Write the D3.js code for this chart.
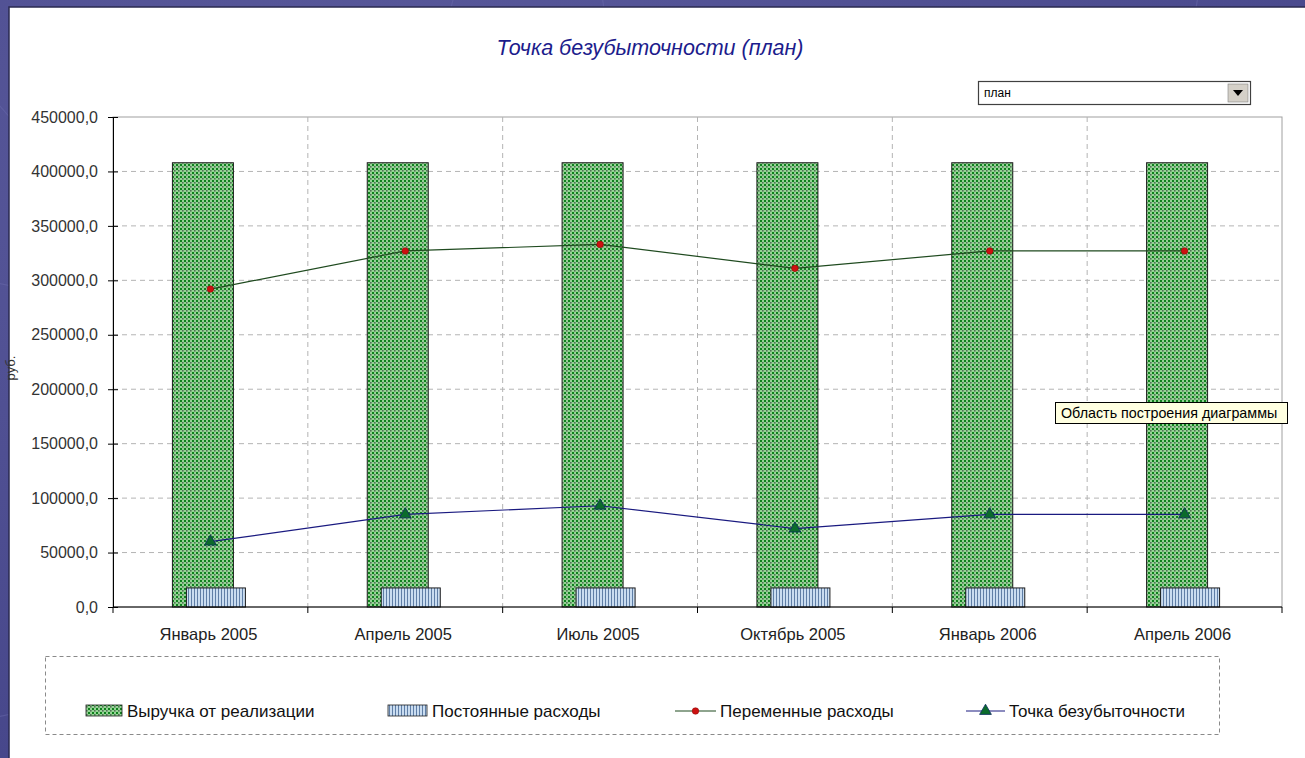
<!DOCTYPE html>
<html>
<head>
<meta charset="utf-8">
<script src="https://cdnjs.cloudflare.com/ajax/libs/d3/7.8.5/d3.min.js"></script>
<style>
  html, body { margin: 0; padding: 0; background: #4c4c8c; }
  svg { display: block; }
</style>
</head>
<body>
<svg id="chart" width="1305" height="758"></svg>
<script>
// Break-even chart (plan)
const categories = ["Январь 2005", "Апрель 2005", "Июль 2005", "Октябрь 2005", "Январь 2006", "Апрель 2006"];
const revenue = [408000, 408000, 408000, 408000, 408000, 408000];
const fixedCosts = [17500, 17500, 17500, 17500, 17500, 17500];
const variableCosts = [292000, 327000, 333000, 311000, 327000, 327000];
const breakEven = [60000, 85000, 93000, 72000, 85000, 85000];
const yTicks = [0, 50000, 100000, 150000, 200000, 250000, 300000, 350000, 400000, 450000];
const legendLabels = ["Выручка от реализации", "Постоянные расходы", "Переменные расходы", "Точка безубыточности"];

(function () {
const svg = d3.select("#chart");
const W = 1305, H = 758;
const font = "'Liberation Sans', Arial, sans-serif";

// Text helper
function label(parent, x, y, txt, size, opts = {}) {
  return parent.append("text")
    .attr("x", x).attr("y", y)
    .attr("text-anchor", opts.anchor || "start")
    .attr("font-family", font).attr("font-size", size)
    .attr("font-style", opts.italic ? "italic" : null)
    .attr("fill", opts.fill || "#222").text(txt);
}

// Background with soft swirls
const defs = svg.append("defs");
const rg = defs.append("radialGradient").attr("id", "bgGrad").attr("cx", "30%").attr("cy", "20%").attr("r", "90%");
rg.append("stop").attr("offset", "0%").attr("stop-color", "#5a5a9c");
rg.append("stop").attr("offset", "100%").attr("stop-color", "#46468a");
svg.append("rect").attr("width", W).attr("height", H).attr("fill", "url(#bgGrad)");
[[200, -60, 260], [900, -40, 300], [-40, 500, 220]].forEach(([cx, cy, r]) => {
  svg.append("circle").attr("cx", cx).attr("cy", cy).attr("r", r)
    .attr("fill", "none").attr("stroke", "#6a6aac").attr("stroke-width", 1.2).attr("opacity", 0.5);
});

// Patterns for bars
const pg = defs.append("pattern").attr("id", "greenDots").attr("patternUnits", "userSpaceOnUse")
  .attr("width", 4).attr("height", 4);
pg.append("rect").attr("width", 4).attr("height", 4).attr("fill", "#93d493");
pg.append("rect").attr("x", 0).attr("y", 0).attr("width", 2).attr("height", 2).attr("fill", "#10801e");
pg.append("rect").attr("x", 2).attr("y", 2).attr("width", 1.6).attr("height", 1.6).attr("fill", "#55705a");

const pb = defs.append("pattern").attr("id", "blueStripes").attr("patternUnits", "userSpaceOnUse")
  .attr("width", 3).attr("height", 3);
pb.append("rect").attr("width", 3).attr("height", 3).attr("fill", "#c9dcf0");
pb.append("rect").attr("x", 2).attr("width", 1).attr("height", 3).attr("fill", "#5f7ea6");

// White chart panel
svg.append("rect").attr("x", 9).attr("y", 7).attr("width", W).attr("height", H)
  .attr("fill", "#ffffff").attr("stroke", "#2a2a50").attr("stroke-width", 1.5);

// Title
label(svg, 650, 55, "Точка безубыточности (план)", 21.5, { anchor: "middle", italic: true, fill: "#1c1c8c" });

// Plot area
const pLeft = 113, pRight = 1282, pTop = 117, pBottom = 607;
const x = d3.scaleBand().domain(categories).range([pLeft, pRight]);
const y = d3.scaleLinear().domain([0, 450000]).range([pBottom, pTop]);

svg.append("rect").attr("x", pLeft).attr("y", pTop).attr("width", pRight - pLeft).attr("height", pBottom - pTop)
  .attr("fill", "#ffffff").attr("stroke", "#a0a0a0").attr("stroke-width", 1);

// Horizontal grid
svg.append("g").selectAll("line").data(yTicks.filter(v => v > 0 && v < 450000)).join("line")
  .attr("x1", pLeft).attr("x2", pRight).attr("y1", d => y(d)).attr("y2", d => y(d))
  .attr("stroke", "#b4b4b4").attr("stroke-dasharray", "5,4");

// Vertical grid at category boundaries
svg.append("g").selectAll("line").data(categories.slice(1)).join("line")
  .attr("x1", d => x(d)).attr("x2", d => x(d)).attr("y1", pTop).attr("y2", pBottom)
  .attr("stroke", "#b4b4b4").attr("stroke-dasharray", "5,4");

const cx = (i) => x(categories[i]) + x.bandwidth() / 2;

// Revenue bars
const gw = 61, bw = 59;
svg.append("g").selectAll("rect").data(revenue).join("rect")
  .attr("x", (d, i) => cx(i) - 38)
  .attr("y", d => y(d)).attr("width", gw).attr("height", d => pBottom - y(d))
  .attr("fill", "url(#greenDots)").attr("stroke", "#1e1e1e").attr("stroke-width", 1);

// Fixed cost bars
svg.append("g").selectAll("rect").data(fixedCosts).join("rect")
  .attr("x", (d, i) => cx(i) - 24)
  .attr("y", d => y(d)).attr("width", bw).attr("height", d => pBottom - y(d))
  .attr("fill", "url(#blueStripes)").attr("stroke", "#1e1e1e").attr("stroke-width", 1);

// Variable costs line
svg.append("path").datum(variableCosts)
  .attr("d", d3.line().x((d, i) => cx(i)).y(d => y(d)))
  .attr("fill", "none").attr("stroke", "#1f4a1f").attr("stroke-width", 1.2);
svg.append("g").selectAll("circle").data(variableCosts).join("circle")
  .attr("cx", (d, i) => cx(i)).attr("cy", d => y(d)).attr("r", 3.3)
  .attr("fill", "#cc1111").attr("stroke", "#8a0000").attr("stroke-width", 0.5);

// Break-even line
svg.append("path").datum(breakEven)
  .attr("d", d3.line().x((d, i) => cx(i)).y(d => y(d)))
  .attr("fill", "none").attr("stroke", "#1a1a80").attr("stroke-width", 1.2);
svg.append("g").selectAll("path").data(breakEven).join("path")
  .attr("transform", (d, i) => `translate(${cx(i)},${y(d)})`)
  .attr("d", d3.symbol(d3.symbolTriangle, 60)())
  .attr("fill", "#0b6b2b").attr("stroke", "#0a2a60").attr("stroke-width", 0.8);

// Y axis
const yAxis = d3.axisLeft(y).tickValues(yTicks).tickSize(5).tickPadding(10)
  .tickFormat(d => d3.format(".1f")(d).replace(".", ","));
const gy = svg.append("g").attr("transform", `translate(${pLeft},0)`).call(yAxis);
gy.select(".domain").attr("stroke", "#000");
gy.selectAll(".tick line").attr("x1", -5).attr("x2", 5).attr("stroke", "#000");
gy.selectAll("text").attr("font-family", font).attr("font-size", 16).attr("fill", "#333");

// X axis
svg.append("line").attr("x1", pLeft).attr("x2", pRight).attr("y1", pBottom).attr("y2", pBottom).attr("stroke", "#000");
const boundaries = categories.map(c => x(c)).concat([pRight]);
svg.append("g").selectAll("line").data(boundaries).join("line")
  .attr("x1", d => d).attr("x2", d => d).attr("y1", pBottom).attr("y2", pBottom + 6).attr("stroke", "#000");
const gx = svg.append("g");
categories.forEach((c, i) => label(gx, cx(i) - 2, 640, c, 16.5, { anchor: "middle" }));

// Y axis title (rotated)
svg.append("text").attr("transform", "translate(15,368) rotate(-90)")
  .attr("text-anchor", "middle").attr("font-family", font).attr("font-size", 13).attr("fill", "#333").text("руб.");

// Dropdown control
svg.append("rect").attr("x", 978.5).attr("y", 81.5).attr("width", 272).attr("height", 23)
  .attr("fill", "#fff").attr("stroke", "#404040").attr("stroke-width", 1.2);
svg.append("rect").attr("x", 1228).attr("y", 84).attr("width", 20).attr("height", 18)
  .attr("fill", "#d4d0c8").attr("stroke", "#808080").attr("stroke-width", 0.6);
svg.append("path").attr("d", "M1233,90 L1243,90 L1238,96 Z").attr("fill", "#000");
label(svg, 984, 97, "план", 12, { fill: "#000" });

// Legend
svg.append("rect").attr("x", 45.5).attr("y", 656.5).attr("width", 1174).attr("height", 78)
  .attr("fill", "none").attr("stroke", "#8a8a8a").attr("stroke-dasharray", "4,3");
const ly = 711;
svg.append("rect").attr("x", 86).attr("y", ly - 6).attr("width", 36).attr("height", 11)
  .attr("fill", "url(#greenDots)").attr("stroke", "#1e1e1e").attr("stroke-width", 0.8);
svg.append("rect").attr("x", 388).attr("y", ly - 6).attr("width", 39).attr("height", 11)
  .attr("fill", "url(#blueStripes)").attr("stroke", "#1e1e1e").attr("stroke-width", 0.8);
svg.append("line").attr("x1", 675).attr("x2", 716).attr("y1", ly).attr("y2", ly).attr("stroke", "#1f4a1f").attr("stroke-width", 1.2);
svg.append("circle").attr("cx", 695.5).attr("cy", ly).attr("r", 3.3)
  .attr("fill", "#cc1111").attr("stroke", "#8a0000").attr("stroke-width", 0.5);
svg.append("line").attr("x1", 966).attr("x2", 1005).attr("y1", ly).attr("y2", ly).attr("stroke", "#1a1a80").attr("stroke-width", 1.2);
svg.append("path").attr("transform", `translate(985.5,${ly})`).attr("d", d3.symbol(d3.symbolTriangle, 60)())
  .attr("fill", "#0b6b2b").attr("stroke", "#0a2a60").attr("stroke-width", 0.8);
const lx = [127, 432, 720, 1009];
const gl = svg.append("g");
legendLabels.forEach((t, i) => label(gl, lx[i], ly + 6, t, 17, { fill: "#111" }));

// Hover tooltip
svg.append("rect").attr("x", 1055.5).attr("y", 402.5).attr("width", 232).attr("height", 21)
  .attr("fill", "#ffffe1").attr("stroke", "#000").attr("stroke-width", 1);
label(svg, 1061, 418, "Область построения диаграммы", 14.3, { fill: "#000" });
})();
</script>
</body>
</html>
